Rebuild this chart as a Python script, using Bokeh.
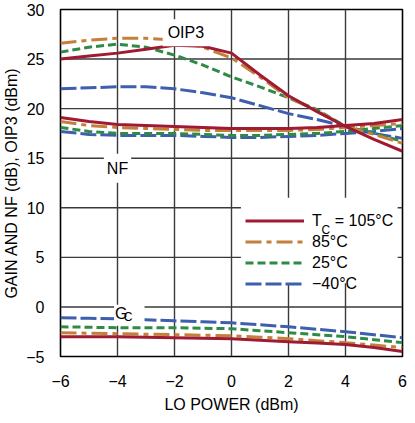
from bokeh.plotting import figure
from bokeh.models import (FixedTicker, Legend, LegendItem, Label, Range1d,
                          BoxAnnotation)
from bokeh.embed import file_html
from bokeh.resources import INLINE

# ---- data ----
lo_power = [-6, -5, -4, -3, -2, -1, 0, 1, 2, 3, 4, 5, 6]

oip3_105 = [25.0, 25.3, 25.6, 26.0, 26.4, 26.3, 25.6, 23.4, 21.3, 19.7, 18.2, 16.9, 15.7]
oip3_85 = [26.6, 26.9, 27.1, 27.1, 26.9, 26.2, 25.1, 23.2, 21.1, 19.8, 18.2, 17.4, 16.5]
oip3_25 = [25.7, 26.2, 26.5, 26.2, 25.4, 24.4, 23.2, 22.2, 21.1, 19.9, 18.2, 17.5, 16.7]
oip3_m40 = [22.0, 22.1, 22.2, 22.2, 22.0, 21.6, 21.1, 20.3, 19.5, 18.9, 18.2, 17.5, 17.0]

nf_105 = [19.1, 18.7, 18.4, 18.3, 18.2, 18.1, 18.0, 18.0, 18.0, 18.1, 18.3, 18.5, 18.9]
nf_85 = [18.7, 18.3, 18.1, 18.0, 17.9, 17.8, 17.8, 17.8, 17.8, 17.9, 18.1, 18.3, 18.5]
nf_25 = [18.1, 17.7, 17.5, 17.5, 17.5, 17.4, 17.3, 17.3, 17.4, 17.5, 17.7, 18.0, 18.3]
nf_m40 = [17.7, 17.4, 17.3, 17.3, 17.3, 17.2, 17.1, 17.1, 17.2, 17.3, 17.5, 17.7, 18.0]

gc_105 = [-3.0, -3.0, -3.0, -3.05, -3.1, -3.15, -3.2, -3.35, -3.5, -3.65, -3.8, -4.1, -4.5]
gc_85 = [-2.6, -2.65, -2.7, -2.75, -2.8, -2.85, -2.9, -3.05, -3.2, -3.4, -3.6, -3.85, -4.1]
gc_25 = [-2.0, -2.05, -2.1, -2.1, -2.1, -2.15, -2.2, -2.4, -2.6, -2.8, -3.0, -3.3, -3.6]
gc_m40 = [-1.1, -1.15, -1.2, -1.3, -1.4, -1.5, -1.6, -1.8, -2.0, -2.25, -2.5, -2.8, -3.1]

x_ticks = [-6, -4, -2, 0, 2, 4, 6]
y_ticks = [-5, 0, 5, 10, 15, 20, 25, 30]
legend_labels = ["T   = 105°C", "85°C", "25°C", "\u221240°C"]

FONT = "Liberation Sans"
GRID = "#3a3a3a"

p = figure(width=407, height=415, output_backend="svg", toolbar_location=None,
           x_range=Range1d(x_ticks[0], x_ticks[-1]),
           y_range=Range1d(y_ticks[0], y_ticks[-1]),
           min_border_left=51, min_border_right=5, min_border_top=9,
           min_border_bottom=56)
p.background_fill_color = None
p.border_fill_color = None
p.outline_line_color = "black"
p.outline_line_width = 1.6

for ax in (p.xaxis[0], p.yaxis[0]):
    ax.axis_line_color = None
    ax.major_tick_line_color = None
    ax.minor_tick_line_color = None
    ax.major_label_text_font = FONT
    ax.major_label_text_font_size = "16px"
    ax.major_label_text_color = "black"
    ax.axis_label_text_font = FONT
    ax.axis_label_text_font_size = "16px"
    ax.axis_label_text_font_style = "normal"
    ax.axis_label_text_color = "black"

p.xaxis.ticker = FixedTicker(ticks=x_ticks)
p.yaxis.ticker = FixedTicker(ticks=y_ticks)
p.xaxis.major_label_overrides = {t: str(t).replace("-", "\u2212") for t in x_ticks}
p.yaxis.major_label_overrides = {t: str(t).replace("-", "\u2212") for t in y_ticks}
p.xaxis.axis_label = "LO POWER (dBm)"
p.yaxis.axis_label = "GAIN AND NF (dB), OIP3 (dBm)"
p.xaxis.major_label_standoff = 12
p.xaxis.axis_label_standoff = 6
p.yaxis.major_label_standoff = 10
p.yaxis.axis_label_standoff = 3

# grid lines at the tick positions, drawn as thin filled bars under the curves
p.xgrid.visible = False
p.ygrid.visible = False
vx = x_ticks[1:-1]
hy = y_ticks[1:-1]
y_mid = (y_ticks[0] + y_ticks[-1]) / 2
x_mid = (x_ticks[0] + x_ticks[-1]) / 2
p.rect(x=vx, y=[y_mid] * len(vx), width=1.4, width_units="screen",
       height=y_ticks[-1] - y_ticks[0], fill_color=GRID, line_color=None)
p.rect(x=[x_mid] * len(hy), y=hy, width=x_ticks[-1] - x_ticks[0],
       height=1.4, height_units="screen", fill_color=GRID, line_color=None)

styles = [
    ("#9e1b32", None, [oip3_105, nf_105, gc_105]),
    ("#c47f3a", "16 5 5 5", [oip3_85, nf_85, gc_85]),
    ("#2f8a45", "8 4", [oip3_25, nf_25, gc_25]),
    ("#3d5fae", "16 4", [oip3_m40, nf_m40, gc_m40]),
]

renderers = {}
for color, dash, series in reversed(styles):
    rs = []
    for ys in series:
        kw = dict(line_color=color, line_width=3)
        if dash:
            kw["line_dash"] = dash
        rs.append(p.line(lo_power, ys, **kw))
    renderers[color] = rs

# white panel behind the legend
p.add_layout(BoxAnnotation(left=0.33, right=5.83, bottom=2.4, top=11.0,
                           fill_color="white", fill_alpha=1.0, line_color=None))

items = [LegendItem(label=lab, renderers=[renderers[c][0]])
         for lab, (c, _, _) in zip(legend_labels, styles)]
legend = Legend(items=items, location=(185, 62), glyph_width=59, glyph_height=21,
                label_height=21, spacing=0, padding=5, margin=0, label_standoff=8,
                border_line_color=None, background_fill_color=None,
                background_fill_alpha=0.0, label_text_font=FONT,
                label_text_font_size="16px", label_text_color="black")
p.add_layout(legend, "center")

lab_kw = dict(text_font=FONT, text_color="black", background_fill_color="white",
              text_baseline="middle")
p.add_layout(Label(x=-1.6, y=27.65, text="OIP3", text_align="center",
                   text_font_size="16px", padding=5, **lab_kw))
p.add_layout(Label(x=-4, y=14.0, text="NF", text_align="center",
                   text_font_size="16px", padding=(3, 6), **lab_kw))
p.add_layout(Label(x=-4.12, y=-0.85, text="G", text_align="left",
                   text_font_size="16px", padding=(1, 17, 0, 4), **lab_kw))
p.add_layout(Label(x=-3.78, y=-1.0, text="C", text_align="left",
                   text_font_size="12px", text_font=FONT, text_color="black",
                   text_baseline="middle"))
p.add_layout(Label(x=3.16, y=7.8, text="C", text_align="left",
                   text_font_size="12px", text_font=FONT, text_color="black",
                   text_baseline="middle"))

open("out.html", "w").write(file_html(p, INLINE))
